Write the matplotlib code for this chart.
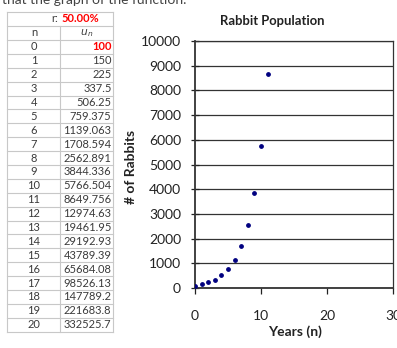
import matplotlib
matplotlib.use("Agg")
import matplotlib.pyplot as plt
from matplotlib.lines import Line2D

plt.rcParams['font.family'] = ['Lato', 'DejaVu Sans']

# ---- data ----
rate_label = "50.00%"
years = list(range(21))
rabbits = [100, 150, 225, 337.5, 506.25, 759.375, 1139.063, 1708.594, 2562.891,
           3844.336, 5766.504, 8649.756, 12974.63, 19461.95, 29192.93, 43789.39,
           65684.08, 98526.13, 147789.2, 221683.8, 332525.7]
x_ticks = [0, 10, 20, 30]
y_ticks = list(range(0, 10001, 1000))
title = "Rabbit Population"
xlabel = "Years (n)"
ylabel = "# of Rabbits"

W, H = 397, 348
fig = plt.figure(figsize=(W / 100, H / 100), dpi=100)

def fx(px):
    return px / W

def fy(py):
    return 1 - py / H

# ---- clipped caption at top ----
fig.text(fx(186), fy(3.5), "that the graph of the function.", ha='right', va='baseline',
         fontsize=10, color='#444444')

# ---- table ----
grid_c = '#c8c8c8'
text_c = '#3a3a3a'
xl, xm, xr = 7.3, 60, 113.3
row_edges = [12.3, 25.7, 40.0] + [40.0 + 13.89 * (i + 1) for i in range(len(years))]
for yy in row_edges:
    fig.add_artist(Line2D([fx(xl), fx(xr)], [fy(yy), fy(yy)], color=grid_c, lw=0.8))
fig.add_artist(Line2D([fx(xl), fx(xl)], [fy(row_edges[0]), fy(row_edges[-1])], color=grid_c, lw=0.8))
fig.add_artist(Line2D([fx(xr), fx(xr)], [fy(row_edges[0]), fy(row_edges[-1])], color=grid_c, lw=0.8))
fig.add_artist(Line2D([fx(xm), fx(xm)], [fy(row_edges[1]), fy(row_edges[-1])], color=grid_c, lw=0.8))

tfs = 8.0
def rc(i):
    return (row_edges[i] + row_edges[i + 1]) / 2

fig.text(fx(58.5), fy(rc(0)), "r:", ha='right', va='center', fontsize=tfs, color=text_c)
fig.text(fx(61.5), fy(rc(0)), rate_label, ha='left', va='center', fontsize=tfs,
         color='#ff0000', fontweight='bold')
fig.text(fx(34), fy(rc(1)), "n", ha='center', va='center', fontsize=tfs, color=text_c)
fig.text(fx(87), fy(rc(1)), r"$u_{\,n}$", ha='center', va='center', fontsize=tfs - 0.3,
         color=text_c)
for i, (n, v) in enumerate(zip(years, rabbits)):
    yy = fy(rc(i + 2))
    fig.text(fx(34), yy, str(n), ha='center', va='center', fontsize=tfs, color=text_c)
    if i == 0:
        fig.text(fx(111.5), yy, str(v), ha='right', va='center', fontsize=tfs,
                 color='#ff0000', fontweight='bold')
    else:
        fig.text(fx(111.5), yy, str(v), ha='right', va='center', fontsize=tfs, color=text_c)

# ---- chart ----
ax = fig.add_axes([fx(195), fy(288), fx(393) - fx(195), (288 - 41) / H])
ax.scatter(years, rabbits, s=6, color='#000080', zorder=3, clip_on=True)
ax.set_xlim(0, 30)
ax.set_ylim(0, 10000)
ax.set_xticks(x_ticks)
ax.set_yticks(y_ticks)
ax.yaxis.grid(True, color='#333333', lw=0.9)
ax.set_axisbelow(True)
for s in ax.spines.values():
    s.set_color('#333333')
    s.set_linewidth(0.9)
ax.spines['left'].set_linewidth(1.3)
ax.spines['bottom'].set_linewidth(1.3)
ax.tick_params(axis='x', direction='out', length=4, width=0.9, pad=12,
               labelsize=10, colors='#222222')
ax.tick_params(axis='y', direction='inout', length=6, width=0.9, pad=7,
               labelsize=10, colors='#222222')

fig.text(fx(272), fy(21), title, ha='center', va='center', fontsize=9.4,
         fontweight='bold', color='#222222')
fig.text(fx(131), fy(167), ylabel, ha='center', va='center', rotation=90,
         fontsize=10, fontweight='bold', color='#222222')
fig.text(fx(295), fy(332), xlabel, ha='center', va='center', fontsize=10,
         fontweight='bold', color='#222222')

fig.savefig("out.png", dpi=100)
